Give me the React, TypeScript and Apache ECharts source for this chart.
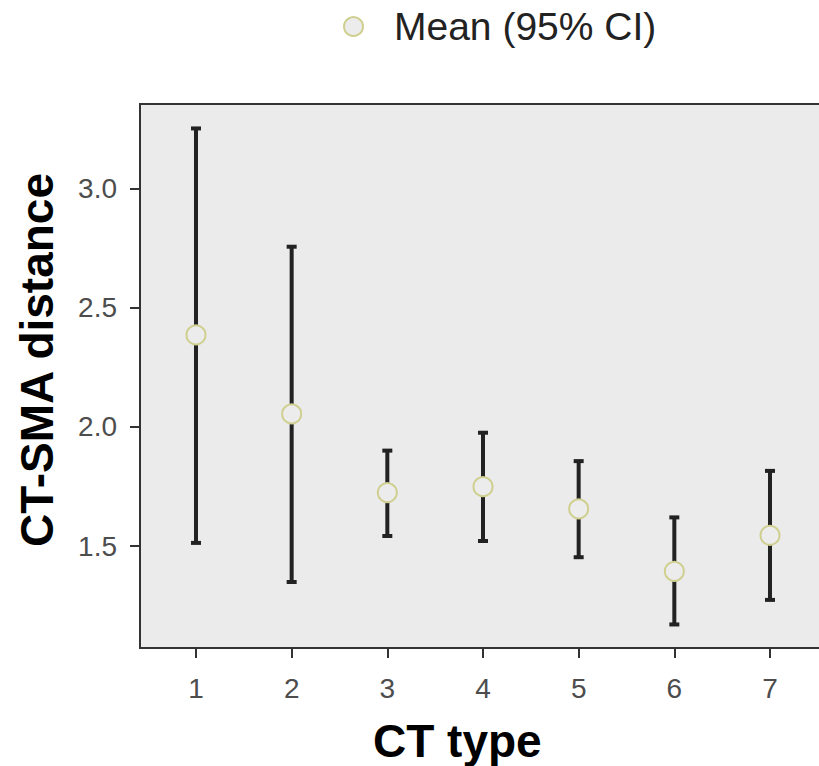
import React, { useEffect, useRef } from "react";
import * as echarts from "echarts";

const categories = [1, 2, 3, 4, 5, 6, 7];
const means = [2.385, 2.054, 1.724, 1.749, 1.656, 1.394, 1.545];
const lowers = [1.513, 1.349, 1.542, 1.521, 1.453, 1.171, 1.274];
const uppers = [3.251, 2.755, 1.900, 1.975, 1.856, 1.620, 1.815];
const yTicks = [1.5, 2.0, 2.5, 3.0];
const seriesName = "Mean (95% CI)";
const xTitle = "CT type";
const yTitle = "CT-SMA distance";

const FONT = "'Liberation Sans', Arial, Helvetica, sans-serif";

export default function App() {
  const ref = useRef<HTMLDivElement>(null);
  useEffect(() => {
    if (!ref.current) return;
    const chart = echarts.init(ref.current, undefined, { renderer: "svg" });
    const errData = categories.map((c, i) => [c, lowers[i], uppers[i]]);
    const meanData = categories.map((c, i) => [c, means[i]]);
    chart.setOption({
      animation: false,
      backgroundColor: "#ffffff",
      legend: {
        data: [seriesName],
        left: 338,
        top: 2,
        icon: "circle",
        itemWidth: 19,
        itemHeight: 19,
        textStyle: {
          fontFamily: FONT,
          fontSize: 39,
          color: "#222222",
          padding: [0, 0, 0, 26],
        },
      },
      grid: {
        left: 140,
        top: 104,
        right: -5,
        bottom: 118,
        outerBoundsMode: "none",
        containLabel: false,
        show: true,
        backgroundColor: "#ebebeb",
        borderColor: "#333333",
        borderWidth: 2,
      },
      graphic: [
        {
          type: "text",
          left: 458 - 85,
          top: 718,
          style: {
            text: xTitle,
            fontFamily: FONT,
            fontSize: 46,
            fontWeight: "bold",
            fill: "#000000",
          },
        },
        {
          type: "text",
          x: 37,
          y: 360,
          rotation: Math.PI / 2,
          style: {
            text: yTitle,
            fontFamily: FONT,
            fontSize: 46,
            fontWeight: "bold",
            fill: "#000000",
            align: "center",
            verticalAlign: "middle",
          },
        },
      ],
      xAxis: {
        type: "value",
        min: 0.4147,
        max: 7.5645,
        splitLine: { show: false },
        axisLine: { show: false },
        axisTick: {
          show: true,
          length: 10,
          customValues: categories,
          lineStyle: { color: "#333333", width: 2 },
        },
        axisLabel: {
          customValues: categories,
          margin: 26,
          fontFamily: FONT,
          fontSize: 28,
          color: "#4d4d4d",
        },
      },
      yAxis: {
        type: "value",
        min: 1.0723,
        max: 3.3535,
        splitLine: { show: false },
        axisLine: { show: false },
        axisTick: {
          show: true,
          length: 10,
          customValues: yTicks,
          lineStyle: { color: "#333333", width: 2 },
        },
        axisLabel: {
          customValues: yTicks,
          margin: 23,
          fontFamily: FONT,
          fontSize: 28,
          color: "#4d4d4d",
          formatter: (v: number) => v.toFixed(1),
        },
      },
      series: [
        {
          type: "custom",
          name: "CI",
          data: errData,
          encode: { x: 0, y: [1, 2] },
          z: 2,
          renderItem: (params: any, api: any) => {
            const x = api.value(0);
            const lo = api.coord([x, api.value(1)]);
            const hi = api.coord([x, api.value(2)]);
            const hw = 5;
            const style = { stroke: "#222222", lineWidth: 4, fill: "none" };
            return {
              type: "group",
              children: [
                { type: "line", shape: { x1: hi[0], y1: hi[1], x2: lo[0], y2: lo[1] }, style },
                { type: "line", shape: { x1: hi[0] - hw, y1: hi[1], x2: hi[0] + hw, y2: hi[1] }, style },
                { type: "line", shape: { x1: lo[0] - hw, y1: lo[1], x2: lo[0] + hw, y2: lo[1] }, style },
              ],
            };
          },
        },
        {
          type: "scatter",
          name: seriesName,
          data: meanData,
          symbol: "circle",
          symbolSize: 19,
          z: 3,
          itemStyle: {
            color: "#ececec",
            borderColor: "#cfcf90",
            borderWidth: 2,
            opacity: 1,
          },
        },
      ],
    });
    return () => chart.dispose();
  }, []);
  return (
    <div
      ref={ref}
      style={{ position: "absolute", left: 0, top: 0, width: 819, height: 766 }}
    />
  );
}
